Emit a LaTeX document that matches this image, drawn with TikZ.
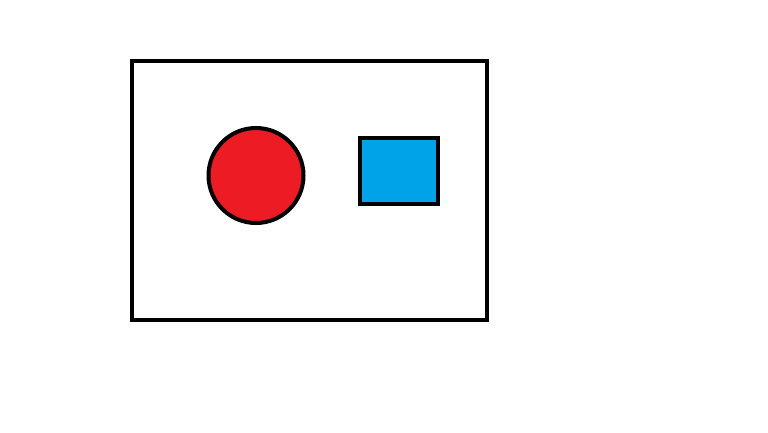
\documentclass[tikz,border=0pt]{standalone}
\definecolor{paintred}{HTML}{ED1C24}
\definecolor{paintblue}{HTML}{00A2E8}
\begin{document}
\begin{tikzpicture}[x=1pt,y=-1pt,
  shapeline/.style={draw=black,line width=4pt,inner sep=0pt,outer sep=0pt}]
\useasboundingbox[fill=white] (0,0) rectangle (768,432);
\node[shapeline,rectangle,minimum width=355pt,minimum height=259pt] (frame) at (309.5,190.5) {};
\node[shapeline,circle,fill=paintred,minimum size=95pt] (ball) at (256,175.5) {};
\node[shapeline,rectangle,fill=paintblue,minimum width=78pt,minimum height=66pt] (box) at (399,171) {};
\end{tikzpicture}
\end{document}
